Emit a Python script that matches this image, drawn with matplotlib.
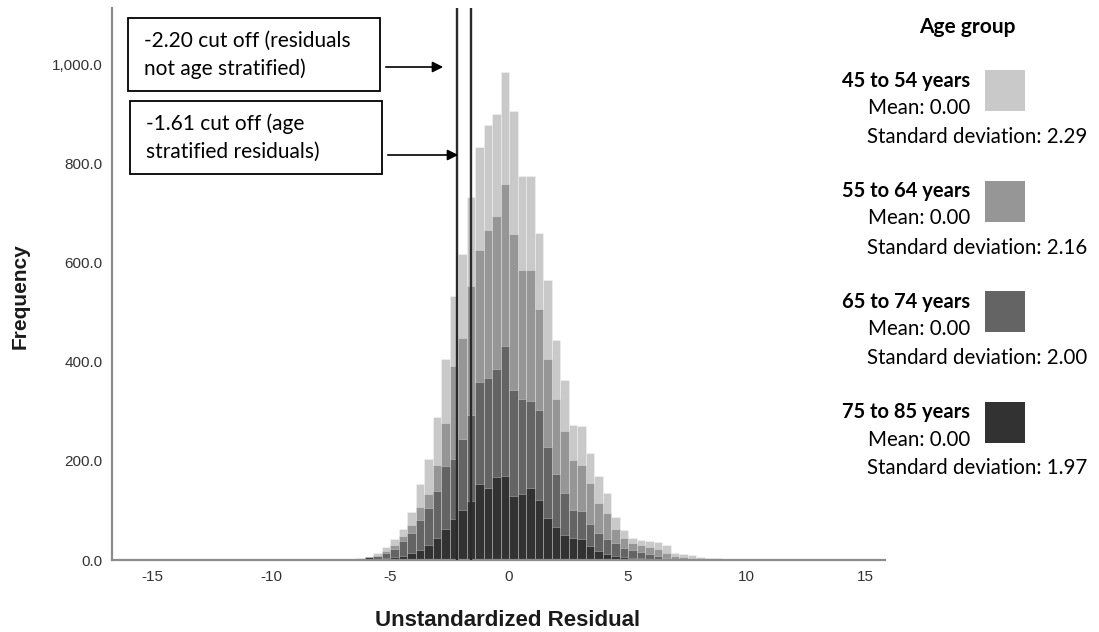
import matplotlib
matplotlib.use("Agg")
import matplotlib.pyplot as plt
from matplotlib.patches import Rectangle
from matplotlib.ticker import FuncFormatter
import numpy as np

# histogram bins shared by all age groups
bin_start = -6.80
bin_width = 0.358

groups = ["45 to 54 years", "55 to 64 years", "65 to 74 years", "75 to 85 years"]
means = ["0.00", "0.00", "0.00", "0.00"]
sds = ["2.29", "2.16", "2.00", "1.97"]
colors = ["#c9c9c9", "#969696", "#646464", "#323232"]

# frequency per bin
freq_45_54 = [2, 4, 7, 14, 26, 42, 62, 97, 154, 204, 288, 405, 533, 618, 733, 834,
              879, 901, 986, 906, 775, 775, 660, 565, 444, 364, 273, 271, 217, 169,
              135, 87, 60, 45, 40, 38, 36, 30, 14, 12, 10, 6, 5, 4, 3,
              0, 0, 0, 3, 0, 0, 3, 0, 0, 3, 0, 0]
freq_55_64 = [1, 2, 4, 9, 18, 30, 48, 70, 108, 134, 192, 276, 392, 448, 553, 627,
              667, 695, 760, 658, 586, 586, 506, 405, 325, 261, 201, 191, 155, 115,
              95, 62, 45, 35, 30, 26, 22, 14, 8, 6, 4, 3, 2, 1, 1,
              0, 0, 0, 0, 0, 0, 0, 0, 0, 0, 0, 0]
freq_65_74 = [0, 1, 4, 8, 15, 22, 38, 55, 80, 106, 139, 190, 204, 245, 293, 360,
              368, 385, 432, 343, 325, 322, 302, 228, 174, 135, 102, 98, 72, 55,
              43, 35, 25, 20, 16, 12, 8, 5, 3, 2, 1, 0, 0, 0, 0,
              0, 0, 0, 0, 0, 0, 0, 0, 0, 0, 0, 0]
freq_75_85 = [0, 1, 6, 3, 4, 6, 9, 14, 20, 30, 45, 62, 82, 102, 120, 153,
              146, 167, 170, 129, 133, 146, 122, 85, 67, 50, 44, 42, 28, 18,
              12, 8, 6, 5, 4, 3, 2, 1, 0, 0, 0, 0, 0, 0, 0,
              0, 0, 0, 0, 0, 0, 0, 0, 0, 0, 0, 0]
all_freq = [freq_45_54, freq_55_64, freq_65_74, freq_75_85]

cutoffs = [-2.20, -1.61]
cut_texts = ["-2.20 cut off (residuals\nnot age stratified)",
             "-1.61 cut off (age\nstratified residuals)"]

W, H = 1099, 632
fig = plt.figure(figsize=(W / 100, H / 100), dpi=100)


def fx(px):
    return px / W


def fy(py):
    return 1 - py / H


ax = fig.add_axes([fx(112), fy(560), fx(885) - fx(112), fy(8) - fy(560)])

# draw the groups back to front, lightest (tallest) first
for freq, col in zip(all_freq, colors):
    edges = bin_start + bin_width * np.arange(len(freq))
    ax.bar(edges, freq, width=bin_width, align="edge", color=col,
           edgecolor=(1, 1, 1, 0.35), linewidth=0.6, zorder=2)

for c in cutoffs:
    ax.axvline(c, color="#2a2a2a", lw=1.7, zorder=3)

ax.set_xlim(-16.72, 15.83)
ax.set_ylim(0, 1115)
ax.set_xticks([-15, -10, -5, 0, 5, 10, 15])
ax.set_yticks([0, 200, 400, 600, 800, 1000])
ax.xaxis.set_major_formatter(FuncFormatter(lambda v, p: "%d" % v))
ax.yaxis.set_major_formatter(FuncFormatter(lambda v, p: "{:,.1f}".format(v)))
for s in ["top", "right"]:
    ax.spines[s].set_visible(False)
for s in ["left", "bottom"]:
    ax.spines[s].set_color("#8c8c8c")
    ax.spines[s].set_linewidth(1.6)
ax.tick_params(length=0, labelsize=11, colors="#333333", pad=7)
for lab in ax.get_xticklabels() + ax.get_yticklabels():
    lab.set_family("Liberation Sans")

fig.text(fx(508), fy(620), "Unstandardized Residual", ha="center", va="center",
         fontsize=16, fontweight="bold", family="Liberation Sans", color="#1a1a1a")
fig.text(fx(20), fy(296), "Frequency", ha="center", va="center", rotation=90,
         fontsize=15, fontweight="bold", family="Liberation Sans", color="#1a1a1a")

# annotation boxes with arrows pointing at the cut off lines
boxes = [(128, 18, 380, 91), (130, 101, 382, 174)]
arrows = [(383, 67, 446), (385, 155, 461)]
for (x0, y0, x1, y1), txt in zip(boxes, cut_texts):
    fig.patches.append(Rectangle((fx(x0), fy(y1)), fx(x1) - fx(x0), fy(y0) - fy(y1),
                                 transform=fig.transFigure, fill=False,
                                 edgecolor="black", lw=1.3))
    fig.text(fx(x0 + 16), fy((y0 + y1) / 2), txt, ha="left", va="center",
             fontsize=15, family="Lato", linespacing=1.45, color="black")
for xs, yy, xe in arrows:
    fig.add_artist(matplotlib.patches.FancyArrowPatch(
        (fx(xs), fy(yy)), (fx(xe), fy(yy)), transform=fig.transFigure,
        arrowstyle="-|>", mutation_scale=16, color="black", lw=1.2))

# legend on the right
fig.text(fx(967), fy(27), "Age group", ha="center", va="center", fontsize=15,
         fontweight="bold", family="Lato", color="black")
for i, (g, m, s, col) in enumerate(zip(groups, means, sds, colors)):
    base = 81 + i * 110.5
    fig.text(fx(842), fy(base), g, ha="left", va="center", fontsize=14.5,
             fontweight="bold", family="Lato", color="black")
    fig.text(fx(868), fy(base + 27), "Mean: " + m, ha="left", va="center",
             fontsize=14.8, family="Lato", color="black")
    fig.text(fx(867), fy(base + 56), "Standard deviation: " + s, ha="left",
             va="center", fontsize=14.8, family="Lato", color="black")
    fig.patches.append(Rectangle((fx(985), fy(base + 30)), fx(40), fy(0) - fy(41),
                                 transform=fig.transFigure, facecolor=col,
                                 edgecolor="none"))

fig.savefig("out.png", dpi=100)
